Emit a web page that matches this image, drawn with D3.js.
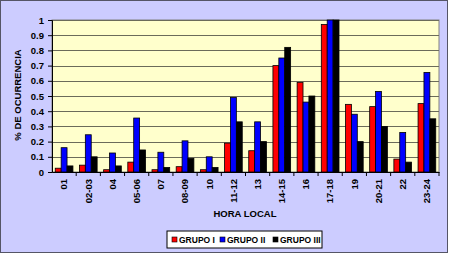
<!DOCTYPE html>
<html>
<head>
<meta charset="utf-8">
<script src="https://cdn.jsdelivr.net/npm/d3@7"></script>
<style>
  body { margin: 0; background: #fff; }
  text { font-family: Arial, "Liberation Sans", sans-serif; font-weight: bold; }
</style>
</head>
<body>
<div id="chart"></div>
<script>
// data
const categories = ["01", "02-03", "04", "05-06", "07", "08-09", "10", "11-12", "13", "14-15", "16", "17-18", "19", "20-21", "22", "23-24"];
const grupoI   = [0.025, 0.045, 0.015, 0.065, 0.015, 0.035, 0.015, 0.19, 0.14, 0.70, 0.59, 0.97, 0.445, 0.43, 0.085, 0.45];
const grupoII  = [0.16, 0.245, 0.125, 0.355, 0.13, 0.205, 0.10, 0.49, 0.33, 0.75, 0.46, 1.0, 0.38, 0.53, 0.26, 0.655];
const grupoIII = [0.04, 0.10, 0.04, 0.145, 0.03, 0.09, 0.03, 0.33, 0.20, 0.82, 0.50, 1.0, 0.20, 0.30, 0.065, 0.35];
const seriesNames = ["GRUPO I", "GRUPO II", "GRUPO III"];
const seriesColors = ["#ff0000", "#0000ff", "#000000"];
const yTicks = [0, 0.1, 0.2, 0.3, 0.4, 0.5, 0.6, 0.7, 0.8, 0.9, 1];

const width = 450;
const height = 254;
const margin = { top: 20, right: 11, bottom: 82, left: 52 };

const svg = d3.select("#chart")
  .append("svg")
  .attr("width", width)
  .attr("height", height);

// outer frame
svg.append("rect")
  .attr("x", 0.5).attr("y", 0.5)
  .attr("width", width - 3).attr("height", height - 2)
  .attr("fill", "#ccccff")
  .attr("stroke", "#555566");

// scales
const x = d3.scaleBand()
  .domain(categories)
  .range([margin.left, width - margin.right]);

const y = d3.scaleLinear()
  .domain([0, 1])
  .range([height - margin.bottom, margin.top]);

const xs = d3.scaleBand()
  .domain(d3.range(3))
  .range([0, x.bandwidth()])
  .paddingOuter(0.55);

// plot area
svg.append("rect")
  .attr("x", margin.left).attr("y", margin.top)
  .attr("width", width - margin.left - margin.right)
  .attr("height", height - margin.top - margin.bottom)
  .attr("fill", "#ffffcc")
  .attr("stroke", "#808080");

// gridlines
svg.append("g")
  .selectAll("line")
  .data(yTicks.slice(1))
  .enter()
  .append("line")
  .attr("x1", margin.left).attr("x2", width - margin.right)
  .attr("y1", d => Math.round(y(d)) + 0.5).attr("y2", d => Math.round(y(d)) + 0.5)
  .attr("stroke", "#6b6b5a")
  .attr("stroke-width", 1.2);

// bars
const allSeries = [grupoI, grupoII, grupoIII];
allSeries.forEach((vals, s) => {
  svg.append("g")
    .selectAll("rect")
    .data(vals)
    .enter()
    .append("rect")
    .attr("x", (d, i) => x(categories[i]) + xs(s))
    .attr("y", d => y(d))
    .attr("width", xs.bandwidth())
    .attr("height", d => y(0) - y(d))
    .attr("fill", seriesColors[s])
    .attr("stroke", "#000")
    .attr("stroke-width", 0.8);
});

// y axis
const yAxis = d3.axisLeft(y).tickValues(yTicks).tickFormat(d3.format("")).tickSize(4);
svg.append("g")
  .attr("transform", `translate(${margin.left}, 0)`)
  .call(yAxis)
  .call(g => g.selectAll("path, line").attr("stroke", "#000"))
  .call(g => g.selectAll("text").attr("font-size", 9.5).attr("fill", "#000").attr("dx", -1));

// x axis
const xAxis = d3.axisBottom(x).tickSize(4).tickSizeOuter(0);
svg.append("g")
  .attr("transform", `translate(0, ${y(0)})`)
  .call(xAxis)
  .call(g => g.selectAll(".tick line").attr("transform", `translate(${x.bandwidth() / 2}, 0)`))
  .call(g => g.selectAll("path, line").attr("stroke", "#000"))
  .call(g => g.selectAll("text")
    .attr("font-size", 9.5)
    .attr("fill", "#000")
    .attr("transform", "rotate(-90)")
    .attr("text-anchor", "end")
    .attr("x", -7)
    .attr("y", 0)
    .attr("dy", "0.35em"));

// axis titles
svg.append("text")
  .attr("x", 245).attr("y", 217)
  .attr("text-anchor", "middle")
  .attr("font-size", 9.5)
  .text("HORA LOCAL");

svg.append("text")
  .attr("transform", "translate(21, 95) rotate(-90)")
  .attr("text-anchor", "middle")
  .attr("font-size", 9.5)
  .text("% DE OCURRENCIA");

// legend
const legend = svg.append("g").attr("transform", "translate(167, 231)");
legend.append("rect")
  .attr("width", 155).attr("height", 17)
  .attr("fill", "#fff")
  .attr("stroke", "#000");
const legendX = [5, 53, 106];
seriesNames.forEach((name, s) => {
  legend.append("rect")
    .attr("x", legendX[s]).attr("y", 6)
    .attr("width", 5).attr("height", 5)
    .attr("fill", seriesColors[s])
    .attr("stroke", "#000")
    .attr("stroke-width", 0.6);
  legend.append("text")
    .attr("x", legendX[s] + 7).attr("y", 12)
    .attr("font-size", 8.5)
    .text(name);
});
</script>
</body>
</html>
